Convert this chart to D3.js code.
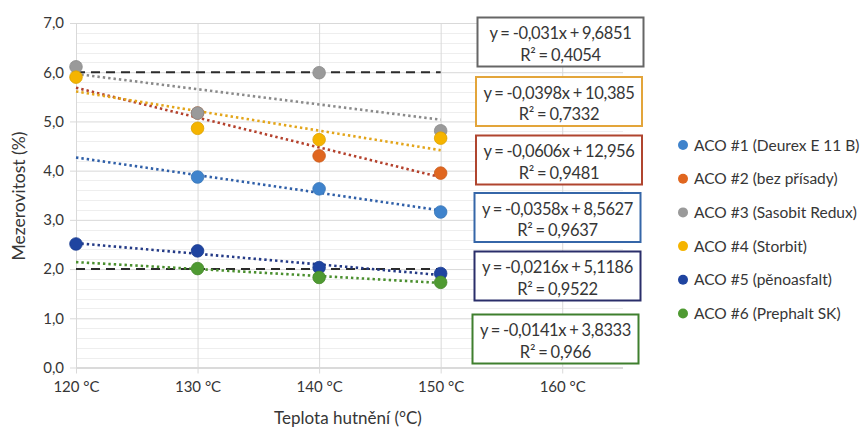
<!DOCTYPE html>
<html>
<head>
<meta charset="utf-8">
<script src="https://cdn.jsdelivr.net/npm/d3@7"></script>
<style>
  body { margin: 0; background: #fff; }
  text { font-family: Lato, "Open Sans", sans-serif; fill: #363636; }
</style>
</head>
<body>
<div id="chart"></div>
<script>
// data
var temps = [120, 130, 140, 150];
var xTicks = [120, 130, 140, 150, 160];
var yTicks = [0, 1, 2, 3, 4, 5, 6, 7];
var names = ["ACO #1 (Deurex E 11 B)", "ACO #2 (bez přísady)", "ACO #3 (Sasobit Redux)",
             "ACO #4 (Storbit)", "ACO #5 (pěnoasfalt)", "ACO #6 (Prephalt SK)"];
var aco1 = [null, 3.87, 3.63, 3.16];
var aco2 = [null, 5.17, 4.30, 3.95];
var aco3 = [6.11, 5.17, 5.99, 4.81];
var aco4 = [5.90, 4.86, 4.63, 4.66];
var aco5 = [2.51, 2.37, 2.03, 1.91];
var aco6 = [null, 2.01, 1.83, 1.73];
var slopes = [-0.0358, -0.0606, -0.031, -0.0398, -0.0216, -0.0141];
var intercepts = [8.5627, 12.956, 9.6851, 10.385, 5.1186, 3.8333];
var r2 = ["0,9637", "0,9481", "0,4054", "0,7332", "0,9522", "0,966"];
var limits = [6, 2];

var allSeries = [aco1, aco2, aco3, aco4, aco5, aco6];
var markerColors = ["#3f83cc", "#e0661f", "#9a9a9a", "#f5b400", "#1f44a0", "#4f9a32"];
var trendColors = ["#2f5fa8", "#b4412c", "#8a8a8a", "#e3a51a", "#243a86", "#4a8f2e"];
var boxColors = ["#3566a8", "#b0452f", "#666666", "#e3a53a", "#2a2e6a", "#3f7f2e"];

var svgwidth = 866;
var svgheight = 428;
var margin = {top: 23, left: 76, right: 243, bottom: 60.5};
var width = svgwidth - margin.left - margin.right;
var height = svgheight - margin.top - margin.bottom;

var svg = d3.select("#chart").append("svg").attr("width", svgwidth).attr("height", svgheight);
svg.append("rect").attr("width", svgwidth).attr("height", svgheight).attr("fill", "#fff");
var chartGroup = svg.append("g").attr("transform", "translate(" + margin.left + "," + margin.top + ")");

var x = d3.scaleLinear().domain([120, 165]).range([0, width]);
var y = d3.scaleLinear().domain([0, 7]).range([height, 0]);

// minor + major gridlines
chartGroup.append("g").selectAll("line")
    .data(d3.range(0, 7.01, 0.2).filter(function(v) { return Math.abs(v - Math.round(v)) > 0.01; }))
    .enter().append("line")
    .attr("x1", 0).attr("x2", width)
    .attr("y1", d => Math.round(y(d)) + 0.5).attr("y2", d => Math.round(y(d)) + 0.5)
    .attr("stroke", "#eeeeee");

var leftAxis = d3.axisLeft(y).tickValues(yTicks).tickSize(-width).tickPadding(12)
    .tickFormat(d => d3.format(".1f")(d).replace(".", ","));
var gy = chartGroup.append("g").call(leftAxis);
gy.select(".domain").remove();
gy.selectAll("line").attr("stroke", "#d9d9d9").attr("x1", -6);
gy.selectAll("text").style("font-size", "15px").attr("fill", "#4a4a4a");

var bottomAxis = d3.axisBottom(x).tickValues(xTicks).tickSize(-height).tickPadding(14)
    .tickFormat(d => d + " °C");
var gx = chartGroup.append("g").attr("transform", "translate(0," + height + ")").call(bottomAxis);
gx.select(".domain").attr("stroke", "#c8c8c8").attr("d", "M0,0.5H" + width);
gx.selectAll("line").attr("stroke", "#d9d9d9").attr("y1", 6);
gx.selectAll("text").style("font-size", "15px").attr("fill", "#4a4a4a");

// limit lines
chartGroup.selectAll(".limit")
    .data(limits).enter().append("line")
    .attr("class", "limit")
    .attr("x1", x(120)).attr("x2", x(150))
    .attr("y1", d => y(d)).attr("y2", d => y(d))
    .attr("stroke", "#2b2b2b").attr("stroke-width", 2)
    .attr("stroke-dasharray", "9,6");

// trend lines from the equations
chartGroup.selectAll(".trend")
    .data(slopes).enter().append("line")
    .attr("class", "trend")
    .attr("x1", x(120)).attr("x2", x(150))
    .attr("y1", (d, i) => y(d * 120 + intercepts[i]))
    .attr("y2", (d, i) => y(d * 150 + intercepts[i]))
    .attr("stroke", (d, i) => trendColors[i])
    .attr("stroke-width", 2.6)
    .attr("stroke-dasharray", "2.4,3");

// points
allSeries.forEach(function(vals, i) {
    chartGroup.append("g").selectAll("circle")
        .data(temps.map((t, j) => ({t: t, v: vals[j]})).filter(d => d.v !== null))
        .enter().append("circle")
        .attr("cx", d => x(d.t))
        .attr("cy", d => y(d.v))
        .attr("r", 6.3)
        .attr("fill", markerColors[i])
        .attr("stroke", d3.color(markerColors[i]).darker(0.3))
        .attr("stroke-width", 0.8);
});

// equation boxes
var boxOrder = [2, 3, 1, 0, 4, 5];
var boxTops = [17.5, 77, 135.5, 193, 251.5, 314.5];
var boxLefts = [477.5, 476, 476, 474.5, 474.5, 472.5];
var boxes = svg.selectAll(".eq")
    .data(boxOrder).enter().append("g")
    .attr("class", "eq")
    .attr("transform", (d, k) => "translate(" + boxLefts[k] + "," + boxTops[k] + ")");
boxes.append("rect")
    .attr("width", 166).attr("height", 49)
    .attr("fill", "#fff")
    .attr("stroke", d => boxColors[d]).attr("stroke-width", 2);
boxes.append("text")
    .attr("x", 83).attr("y", 21.5)
    .attr("text-anchor", "middle")
    .style("font-size", "16.5px")
    .style("letter-spacing", "-0.35px")
    .style("word-spacing", "-0.8px")
    .text(d => "y = " + String(slopes[d]).replace(".", ",") + "x + " + String(intercepts[d]).replace(".", ","));
boxes.append("text")
    .attr("x", 83).attr("y", 43)
    .attr("text-anchor", "middle")
    .style("font-size", "16.5px")
    .style("letter-spacing", "-0.3px")
    .style("word-spacing", "-0.8px")
    .text(d => "R² = " + r2[d]);

// legend
var legend = svg.selectAll(".leg")
    .data(names).enter().append("g")
    .attr("class", "leg")
    .attr("transform", (d, i) => "translate(683," + (145 + i * 33.7) + ")");
legend.append("circle").attr("r", 5).attr("fill", (d, i) => markerColors[i]);
legend.append("text").attr("x", 11).attr("y", 5.5)
    .style("font-size", "15.5px")
    .text(d => d);

// axis titles
svg.append("text")
    .attr("text-anchor", "middle")
    .attr("x", 348)
    .attr("y", 424)
    .style("font-size", "17px")
    .text("Teplota hutnění (°C)");

svg.append("text")
    .attr("text-anchor", "middle")
    .attr("transform", "translate(25,196) rotate(-90)")
    .style("font-size", "17.5px")
    .text("Mezerovitost (%)");
</script>
</body>
</html>
